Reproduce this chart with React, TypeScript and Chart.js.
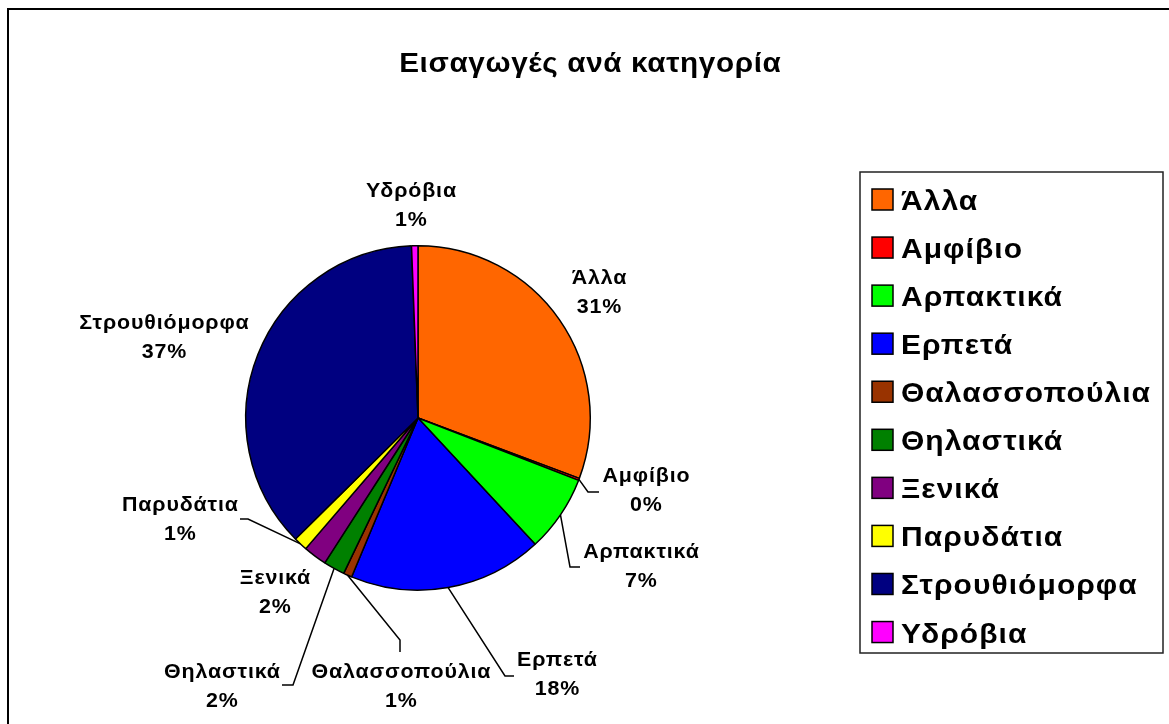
import React, { useEffect, useRef } from "react";
import { Chart, registerables } from "chart.js";

Chart.register(...registerables);

const TITLE = "Εισαγωγές ανά κατηγορία";

const categories = [
  "Άλλα",
  "Αμφίβιο",
  "Αρπακτικά",
  "Ερπετά",
  "Θαλασσοπούλια",
  "Θηλαστικά",
  "Ξενικά",
  "Παρυδάτια",
  "Στρουθιόμορφα",
  "Υδρόβια",
];

const shares = [30.7, 0.2, 7.2, 18.2, 0.8, 2.0, 2.2, 1.3, 36.8, 0.6];

const sliceColors = [
  "#FF6600",
  "#FF0000",
  "#00FF00",
  "#0000FF",
  "#993300",
  "#008000",
  "#800080",
  "#FFFF00",
  "#000080",
  "#FF00FF",
];

// label block centres, px offsets from the pie centre
const labelOffsets: [number, number][] = [
  [181, -127],
  [228, 71],
  [223, 147],
  [139, 255],
  [-17, 267],
  [-196, 267],
  [-143, 173],
  [-238, 100],
  [-254, -82],
  [-7, -214],
];

// leader line: elbow (dx,dy) and end (dx,dy) relative to label centre
const leaders: (number[] | null)[] = [
  null,
  [-58, 3, -47, 3],
  [-71, 2, -61, 2],
  [-52, 3, -43, 3],
  [-1, -45, -1, -33],
  [71, 0, 60, 0],
  null,
  [68, 1, 60, 1],
  null,
  null,
];

const FONT = "'Liberation Sans', Arial, sans-serif";

function drawText(
  ctx: CanvasRenderingContext2D,
  text: string,
  x: number,
  y: number,
  align: CanvasTextAlign,
  scaleX: number,
  spacing: number
) {
  ctx.save();
  ctx.translate(x, y);
  ctx.scale(scaleX, 1);
  (ctx as any).letterSpacing = `${spacing}px`;
  ctx.textAlign = align;
  ctx.textBaseline = "alphabetic";
  ctx.fillText(text, align === "center" ? spacing / 2 : 0, 0);
  ctx.restore();
}

const overlayPlugin = {
  id: "overlay",
  afterDatasetsDraw(chart: any) {
    const ctx: CanvasRenderingContext2D = chart.ctx;
    const meta = chart.getDatasetMeta(0);
    const total = shares.reduce((a, b) => a + b, 0);
    ctx.save();
    ctx.fillStyle = "#000";
    ctx.strokeStyle = "#000";

    // title
    ctx.font = `bold 28px ${FONT}`;
    drawText(ctx, TITLE, 590, 72, "center", 1.06, 0.6);

    // data labels
    ctx.font = `bold 20px ${FONT}`;
    meta.data.forEach((arc: any, i: number) => {
      const p = arc.getProps(["x", "y", "startAngle", "endAngle", "outerRadius"], true);
      const cx = p.x + labelOffsets[i][0];
      const cy = p.y + labelOffsets[i][1];
      const ld = leaders[i];
      if (ld) {
        const mid = (p.startAngle + p.endAngle) / 2;
        ctx.beginPath();
        ctx.lineWidth = 1.5;
        ctx.moveTo(p.x + Math.cos(mid) * p.outerRadius, p.y + Math.sin(mid) * p.outerRadius);
        ctx.lineTo(cx + ld[0], cy + ld[1]);
        ctx.lineTo(cx + ld[2], cy + ld[3]);
        ctx.stroke();
      }
      const pct = Math.round((shares[i] / total) * 100) + "%";
      drawText(ctx, categories[i], cx, cy - 7, "center", 1.07, 0.8);
      drawText(ctx, pct, cx, cy + 22, "center", 1.07, 0.8);
    });

    // legend
    const lx = 860, ly = 172, lw = 303, lh = 481;
    ctx.lineWidth = 1.5;
    ctx.strokeStyle = "#222";
    ctx.strokeRect(lx, ly, lw, lh);
    ctx.font = `bold 28px ${FONT}`;
    categories.forEach((c, i) => {
      const rc = 199.5 + 48.06 * i;
      ctx.fillStyle = sliceColors[i];
      ctx.fillRect(872, rc - 10.5, 21, 21);
      ctx.strokeStyle = "#000";
      ctx.strokeRect(872, rc - 10.5, 21, 21);
      ctx.fillStyle = "#000";
      drawText(ctx, c, 901, rc + 10.5, "left", 1.07, 1);
    });
    ctx.restore();
  },
};

export default function App() {
  const ref = useRef<HTMLCanvasElement>(null);
  useEffect(() => {
    if (!ref.current) return;
    const chart = new Chart(ref.current, {
      type: "pie",
      data: {
        labels: categories,
        datasets: [
          {
            data: shares,
            backgroundColor: sliceColors,
            borderColor: "#000",
            borderWidth: 1.5,
          },
        ],
      },
      options: {
        responsive: false,
        maintainAspectRatio: false,
        animation: false,
        devicePixelRatio: 1,
        layout: { padding: { left: 245, right: 578, top: 245, bottom: 133 } },
        plugins: {
          legend: { display: false },
          title: { display: false },
          tooltip: { enabled: false },
        },
      },
      plugins: [overlayPlugin],
    });
    return () => chart.destroy();
  }, []);
  return (
    <div style={{ position: "fixed", left: 0, top: 0, width: 1169, height: 724, overflow: "hidden", background: "#fff" }}>
      <div
        style={{
          position: "absolute",
          left: 7,
          top: 8,
          right: -10,
          bottom: -10,
          borderTop: "2px solid #000",
          borderLeft: "2px solid #000",
        }}
      />
      <canvas ref={ref} width={1169} height={724} style={{ position: "absolute", left: 0, top: 0, width: 1169, height: 724 }} />
    </div>
  );
}
